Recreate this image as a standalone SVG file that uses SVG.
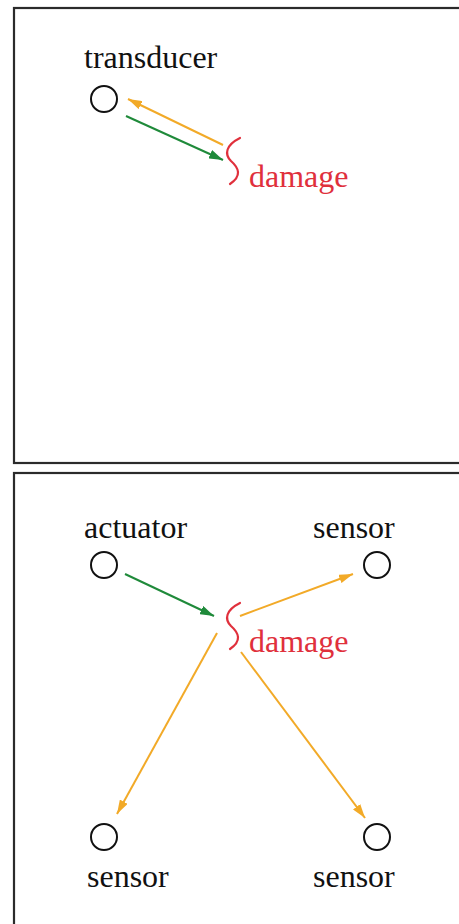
<svg xmlns="http://www.w3.org/2000/svg" width="459" height="924" viewBox="0 0 459 924">
<style>
.frame{fill:none;stroke:#2b2b2b;stroke-width:2.2}
.node{fill:none;stroke:#111;stroke-width:2}
.lbl{font-family:"Liberation Serif","Times New Roman",serif;font-size:32px;fill:#111}
.dmg{font-family:"Liberation Serif","Times New Roman",serif;font-size:32px;fill:#e0303c}
.crack{fill:none;stroke:#e0303c;stroke-width:2.2;stroke-linecap:round}
.g{stroke:#1f8a3a;stroke-width:2;fill:none}
.o{stroke:#f2aa28;stroke-width:2;fill:none}
</style>
<defs>
<marker id="ag" viewBox="0 0 14 9" refX="14" refY="4.5" markerWidth="14" markerHeight="9" markerUnits="userSpaceOnUse" orient="auto"><path d="M0,0 L14,4.5 L0,9 Z" fill="#1f8a3a"/></marker>
<marker id="ao" viewBox="0 0 14 9" refX="14" refY="4.5" markerWidth="14" markerHeight="9" markerUnits="userSpaceOnUse" orient="auto"><path d="M0,0 L14,4.5 L0,9 Z" fill="#f2aa28"/></marker>
</defs>
<rect width="459" height="924" fill="#fff"/>
<g id="panel-top">
<rect class="frame" x="14" y="8" width="460" height="455"/>
</g>
<g id="panel-bottom">
<rect class="frame" x="14" y="473" width="460" height="470"/>
</g>
<g id="transducer">
<circle class="node" cx="104" cy="99" r="13"/>
<text class="lbl" x="84" y="68">transducer</text>
</g>
<g id="damage-top">
<path class="crack" d="M240,138 C226,145 224,154 231,161 C239,168 242,176 230,184"/>
<text class="dmg" x="249" y="187">damage</text>
</g>
<g id="actuator">
<circle class="node" cx="104" cy="565" r="13"/>
<text class="lbl" x="84" y="538">actuator</text>
</g>
<g id="sensor-tr">
<circle class="node" cx="377" cy="565" r="13"/>
<text class="lbl" x="313" y="538">sensor</text>
</g>
<g id="sensor-bl">
<circle class="node" cx="104" cy="837" r="13"/>
<text class="lbl" x="87" y="887">sensor</text>
</g>
<g id="sensor-br">
<circle class="node" cx="377" cy="837" r="13"/>
<text class="lbl" x="313" y="887">sensor</text>
</g>
<g id="damage-bottom">
<path class="crack" d="M240,603 C226,610 224,619 231,626 C239,633 242,641 230,649"/>
<text class="dmg" x="249" y="652">damage</text>
</g>
<g id="connectors">
<line class="o" x1="223" y1="145" x2="128" y2="99" marker-end="url(#ao)"/>
<line class="g" x1="126" y1="116" x2="223" y2="160" marker-end="url(#ag)"/>
<line class="g" x1="125" y1="574" x2="214" y2="616" marker-end="url(#ag)"/>
<line class="o" x1="240" y1="616" x2="353" y2="574" marker-end="url(#ao)"/>
<line class="o" x1="217" y1="633" x2="117" y2="814" marker-end="url(#ao)"/>
<line class="o" x1="241" y1="652" x2="365" y2="818" marker-end="url(#ao)"/>
</g>
</svg>
